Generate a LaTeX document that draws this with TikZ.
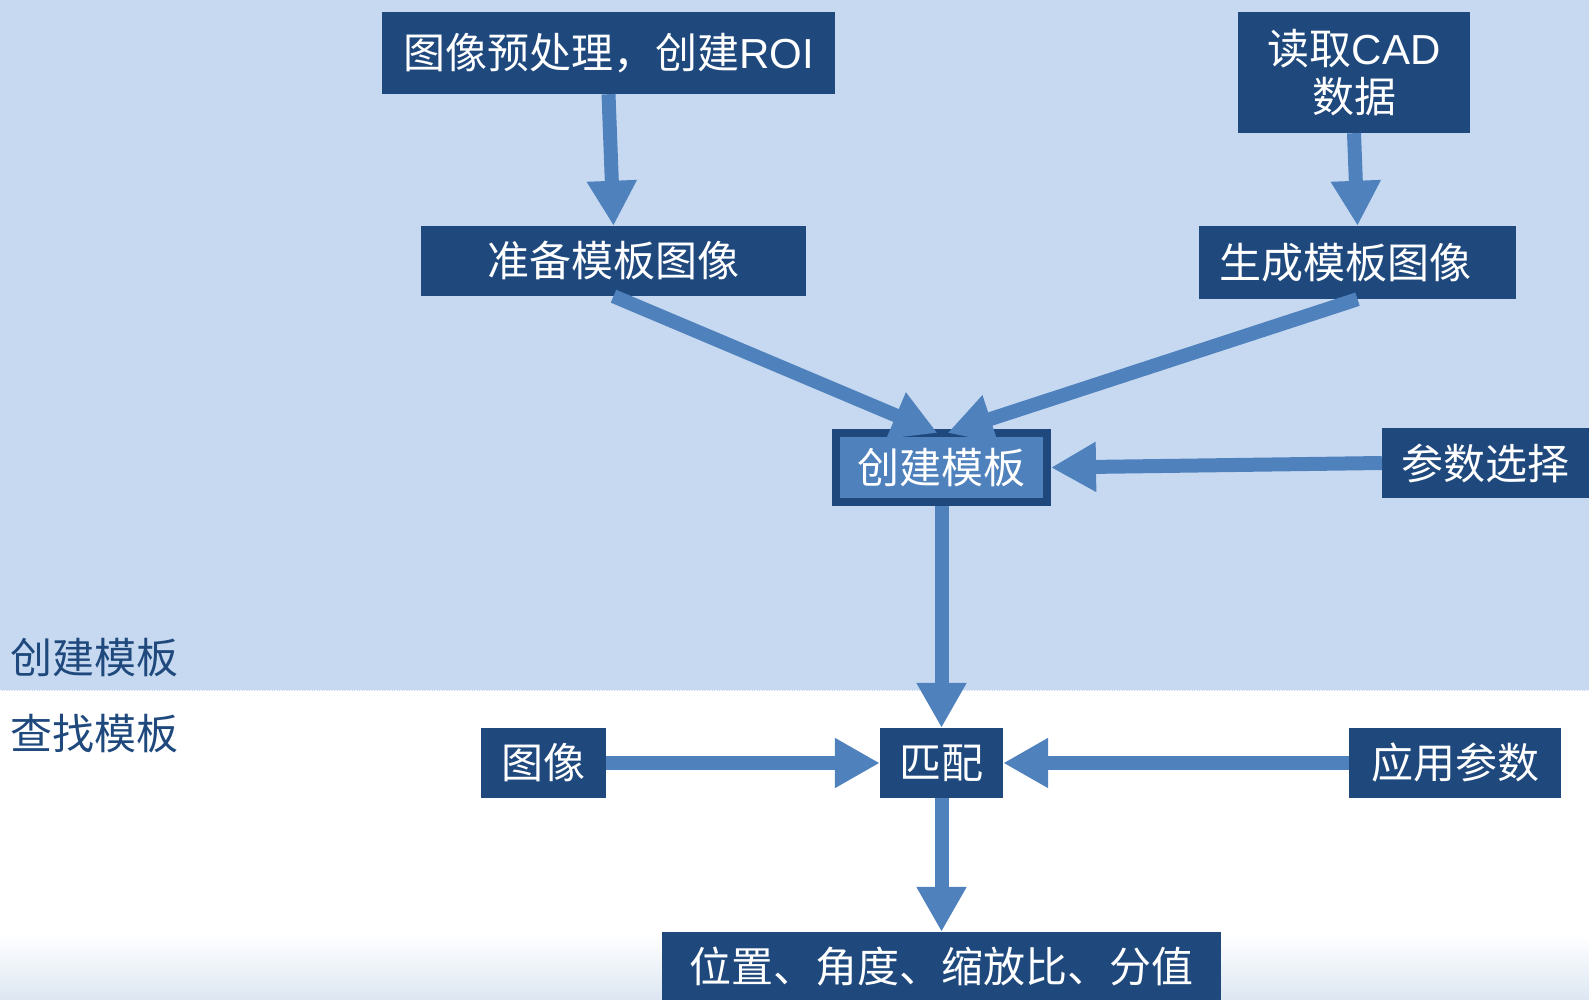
\documentclass[tikz,border=0pt]{standalone}
\usepackage{fontspec}
\setmainfont{Liberation Sans}
\newfontfamily\cjk{Noto Sans CJK SC}
\usetikzlibrary{arrows.meta}
\definecolor{bgblue}{HTML}{C6D9F1}
\definecolor{boxblue}{HTML}{1F497D}
\definecolor{arrblue}{HTML}{4F81BD}
\definecolor{fadeblue}{HTML}{DCE6F2}
\tikzset{
  box/.style={fill=boxblue, text=white, inner sep=0pt, font=\fontsize{42}{48}\selectfont\cjk, align=center},
  flow/.style={draw=arrblue, line width=14pt, -{Triangle[width=47pt,length=45pt]}, arrblue},
  lane/.style={text=boxblue, inner sep=0pt, anchor=west, font=\fontsize{42}{48}\selectfont\cjk}
}
\begin{document}
\begin{tikzpicture}[x=1pt,y=-1pt]
\useasboundingbox (0,0) rectangle (1589,1000);
\fill[bgblue] (0,0) rectangle (1589,691);
\shade[top color=white, bottom color=fadeblue] (0,935) rectangle (1589,1000);
\draw[white, line width=1.5pt, densely dotted] (0,691) -- (1589,691);

\node[lane] (lab1) at (10,658) {创建模板};
\node[lane] (lab2) at (10,734) {查找模板};

\node[box, minimum width=453pt, minimum height=82pt] (roi) at (608.5,53) {图像预处理，创建{\rmfamily ROI}};
\node[box, minimum width=232pt, minimum height=121pt] (cad) at (1354,72.5) {读取{\rmfamily CAD}\\数据};
\node[box, minimum width=385pt, minimum height=70pt] (prep) at (613.5,261) {准备模板图像};
\node[box, minimum width=317pt, minimum height=73pt] (gen) at (1357.5,262.5) {\hspace*{-24pt}生成模板图像};
\node[box, fill=arrblue, draw=boxblue, line width=8pt, minimum width=211pt, minimum height=69pt] (ct) at (941.5,467.5) {创建模板};
\node[box, minimum width=207pt, minimum height=70pt] (param) at (1485.5,463) {参数选择};
\node[box, minimum width=125pt, minimum height=70pt] (img) at (543.5,763) {图像};
\node[box, minimum width=123pt, minimum height=70pt] (match) at (941.5,763) {匹配};
\node[box, minimum width=212pt, minimum height=70pt] (app) at (1455,763) {应用参数};
\node[box, minimum width=559pt, minimum height=70pt] (res) at (941.5,967) {位置、角度、缩放比、分值};

\draw[flow] (roi.south) -- (prep.north);
\draw[flow] (cad.south) -- (gen.north);
\draw[flow] (prep.south) -- ([xshift=-4pt,yshift=-4pt]ct.north);
\draw[flow] (gen.south) -- ([xshift=6pt,yshift=-4pt]ct.north);
\draw[flow] (param.west) -- (ct.east);
\draw[flow] (ct.south) -- (match.north);
\draw[flow] (img.east) -- (match.west);
\draw[flow] (app.west) -- (match.east);
\draw[flow] (match.south) -- (res.north);
\end{tikzpicture}
\end{document}
